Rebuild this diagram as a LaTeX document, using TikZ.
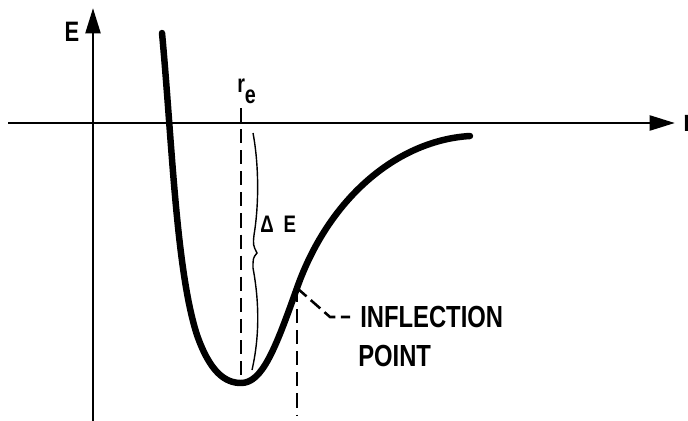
\documentclass[tikz,border=0pt]{standalone}
\usepackage{fontspec}
\usepackage{tikz}
\usetikzlibrary{calc,arrows.meta,positioning}
\newfontfamily\lblfont{Liberation Sans}[FakeStretch=0.78]

\begin{document}
\begin{tikzpicture}[x=0.025cm, y=-0.025cm,
    axis/.style={line width=2.1pt, -{Triangle[length=18pt, width=10.5pt]}},
    curve/.style={line width=4.6pt, line cap=round},
    guide/.style={line width=1.8pt, dash pattern=on 10pt off 5pt},
    brace/.style={line width=1pt},
    lbl/.style={inner sep=0, font=\lblfont\bfseries\fontsize{21.7}{26}\selectfont}]
    \useasboundingbox (0,0) rectangle (688,420);
    \coordinate (xstart) at (8,123);
    \coordinate (xend) at (675,123);
    \coordinate (ystart) at (93,425);
    \coordinate (yend) at (93,8);
    \coordinate (retop) at (241,108);
    \coordinate (rmin) at (241,383);
    \coordinate (infl) at (297,288);
    \coordinate (inflbot) at (297,415);
    \coordinate (bend) at (330,317);
    \draw[axis] (xstart) -- (xend);
    \draw[axis] (ystart) -- (yend);
    \node[lbl, anchor=west] (rlabel) at (683,123) {r};
    \node[lbl, font=\lblfont\bfseries\fontsize{20}{24}\selectfont] (elabel) at (72,32) {E};
    \node[lbl, anchor=base west, font=\lblfont\bfseries\fontsize{18}{20}\selectfont] (relabel) at (237,92) {r\raisebox{-8pt}{e}};
    \draw[guide] (retop) -- (rmin);
    \draw[guide] (infl) -- (inflbot);
    \draw[curve] (162,33) .. controls (172,140) and (176,270) .. (197,335)
        .. controls (210,372) and (225,383) .. (rmin)
        .. controls (262,383) and (275,350) .. (infl)
        .. controls (330,195) and (400,140) .. (470,136);
    \draw[brace] (253,133) .. controls (259,165) and (259,205) .. (254,235)
        .. controls (253,245) .. (257,253) .. controls (253,258) .. (253,268)
        .. controls (259,300) and (260,335) .. (252,370);
    \node[lbl, anchor=west, font=\lblfont\bfseries\fontsize{17}{20}\selectfont] (delabel) at (260,224) {Δ\hspace{7pt}E};
    \node[lbl, anchor=west] (infltext) at (360,317) {INFLECTION};
    \node[lbl, anchor=base west] (pointtext) at ($(infltext.base west)+(-2,39)$) {POINT};
    \draw[guide, dash pattern=on 9pt off 4pt] (infl) -- (bend) -- ([xshift=-7pt]infltext.west);
\end{tikzpicture}
\end{document}
